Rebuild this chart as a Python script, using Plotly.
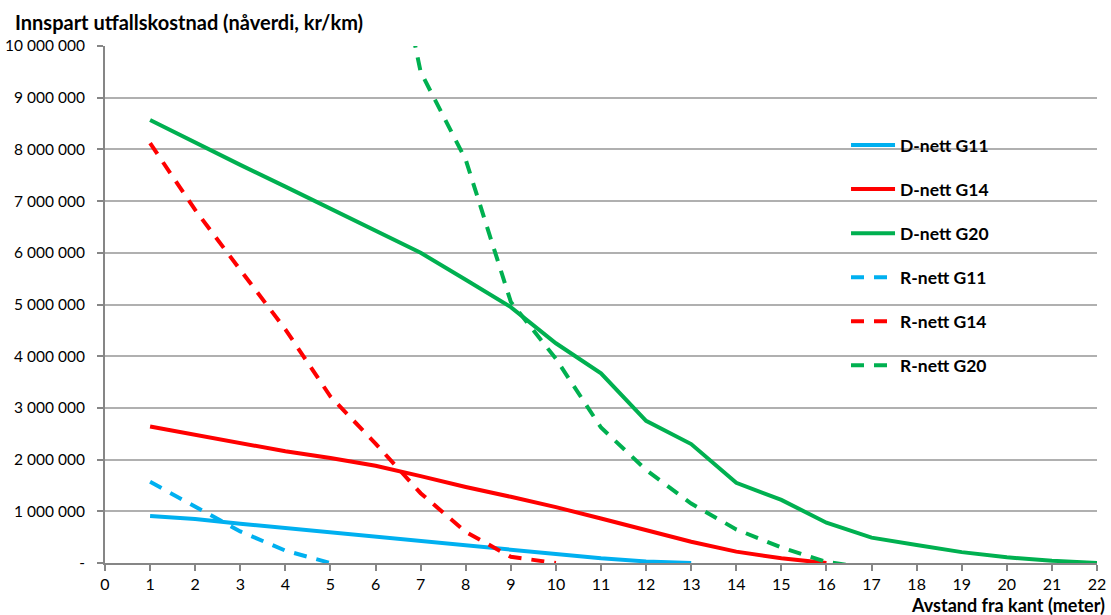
import plotly.graph_objects as go

# ---- data ----
x_dg11 = [1, 2, 3, 4, 5, 6, 7, 8, 9, 10, 11, 12, 13]
d_g11 = [910000, 850000, 760000, 675000, 600000, 510000, 420000, 330000, 250000, 170000, 90000, 30000, 0]

x_dg14 = [1, 2, 3, 4, 5, 6, 7, 8, 9, 10, 11, 12, 13, 14, 15, 16]
d_g14 = [2640000, 2480000, 2320000, 2160000, 2030000, 1880000, 1680000, 1470000, 1280000, 1080000,
         860000, 640000, 410000, 220000, 90000, 0]

x_dg20 = [1, 2, 3, 4, 5, 6, 7, 8, 9, 10, 11, 12, 13, 14, 15, 16, 17, 18, 19, 20, 21, 22]
d_g20 = [8570000, 8130000, 7700000, 7280000, 6850000, 6430000, 6000000, 5480000, 4950000, 4250000,
         3670000, 2750000, 2300000, 1550000, 1220000, 780000, 490000, 350000, 210000, 110000, 45000, 0]

x_rg11 = [1, 2, 3, 4, 5]
r_g11 = [1570000, 1090000, 610000, 240000, 0]

x_rg14 = [1, 2, 3, 4, 5, 6, 7, 8, 9, 10]
r_g14 = [8120000, 6830000, 5670000, 4520000, 3220000, 2310000, 1350000, 600000, 120000, 0]

x_rg20 = [6, 7, 8, 9, 10, 11, 12, 13, 14, 15, 16, 17]
r_g20 = [13700000, 9500000, 7800000, 5050000, 3950000, 2620000, 1800000, 1150000, 650000, 300000, 20000, -100000]

x_ticks = list(range(0, 23))
y_tickvals = [0, 1e6, 2e6, 3e6, 4e6, 5e6, 6e6, 7e6, 8e6, 9e6, 10e6]
y_ticktext = ["-", "1 000 000", "2 000 000", "3 000 000", "4 000 000", "5 000 000",
              "6 000 000", "7 000 000", "8 000 000", "9 000 000", "10 000 000"]

y_title = "Innspart utfallskostnad (nåverdi, kr/km)"
x_title = "Avstand fra kant (meter)"

BLUE = "#00B0F0"
RED = "#FF0000"
GREEN = "#00B050"
DASH = "13px,10px"

series = [
    ("D-nett G11", x_dg11, d_g11, BLUE, "solid"),
    ("D-nett G14", x_dg14, d_g14, RED, "solid"),
    ("D-nett G20", x_dg20, d_g20, GREEN, "solid"),
    ("R-nett G11", x_rg11, r_g11, BLUE, DASH),
    ("R-nett G14", x_rg14, r_g14, RED, DASH),
    ("R-nett G20", x_rg20, r_g20, GREEN, DASH),
]

fig = go.Figure()
for i, (name, xs, ys, col, dash) in enumerate(series):
    fig.add_trace(go.Scatter(
        x=xs, y=ys, name=name, mode="lines", legendgroup=f"g{i}",
        line=dict(color=col, width=4, dash=dash),
        hoverinfo="skip",
    ))

AX = "#868686"
fig.update_layout(
    width=1111, height=615,
    margin=dict(l=105, r=14, t=46, b=52),
    plot_bgcolor="white", paper_bgcolor="white",
    font=dict(family="Lato", size=16, color="black"),
    showlegend=True,
    legend=dict(
        x=0.747, y=0.843, xanchor="left", yanchor="top",
        bgcolor="rgba(0,0,0,0)", borderwidth=0,
        traceorder="grouped", tracegroupgap=18.3, itemwidth=44,
        font=dict(family="Lato", size=17.5, color="black", weight="bold"),
    ),
    xaxis=dict(
        range=[0, 22], tickmode="array", tickvals=x_ticks,
        showgrid=False, zeroline=False, automargin=False,
        showline=True, linecolor=AX, linewidth=2,
        ticks="outside", ticklen=6, tickwidth=1.5, tickcolor=AX,
        tickfont=dict(size=16), layer="below traces",
    ),
    yaxis=dict(
        range=[0, 10e6], tickmode="array", tickvals=y_tickvals, ticktext=y_ticktext,
        showgrid=True, gridcolor="#b0b0b0", gridwidth=1.5, zeroline=False, automargin=False,
        showline=True, linecolor=AX, linewidth=2,
        ticks="outside", ticklen=6, tickwidth=1.5, tickcolor=AX,
        tickfont=dict(size=15.5), ticklabelstandoff=9, layer="below traces",
    ),
    shapes=[dict(
        type="rect", xref="paper", yref="paper",
        x0=0.7147, x1=0.9294, y0=0.3346, y1=0.857,
        fillcolor="white", line=dict(width=0), layer="between",
    )],
    annotations=[
        dict(text=y_title, xref="paper", yref="paper", x=-0.093, y=1.0, yshift=24,
             xanchor="left", yanchor="middle", showarrow=False,
             font=dict(family="Lato", size=20, weight="bold", color="black")),
        dict(text=x_title, xref="paper", yref="paper", x=1.0, y=0, yshift=-42,
             xshift=10, xanchor="right", yanchor="middle", showarrow=False,
             font=dict(family="Lato", size=18, weight="bold", color="black")),
    ],
)

fig.write_html("out.html")
